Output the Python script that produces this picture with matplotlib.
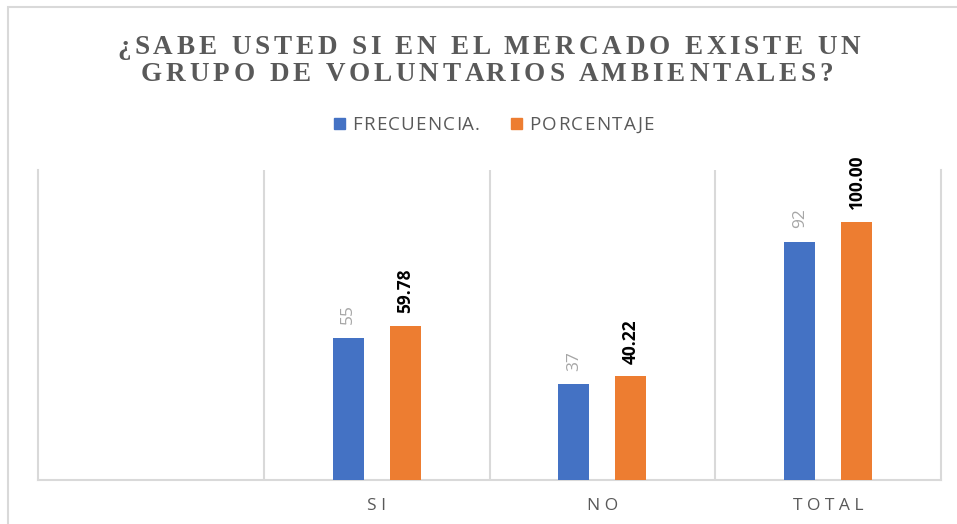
import matplotlib
matplotlib.use("Agg")
import matplotlib.pyplot as plt
from matplotlib.font_manager import FontProperties
from matplotlib.patches import Rectangle
import numpy as np

# ---- data ----
categories = ["", "SI", "NO", "TOTAL"]
frecuencia = [None, 55, 37, 92]
porcentaje = [None, 59.78, 40.22, 100.00]
series_names = ["FRECUENCIA.", "PORCENTAJE"]
title_lines = ["¿SABE USTED SI EN EL MERCADO EXISTE UN", "GRUPO DE VOLUNTARIOS AMBIENTALES?"]

BLUE = "#4472C4"
ORANGE = "#ED7D31"
GRID = "#D9D9D9"
TXT = "#595959"

W, H = 957, 524
fig = plt.figure(figsize=(W / 100, H / 100), dpi=100)
fig.patch.set_facecolor("white")

def fy(py):
    return (H - py) / H

# outer chart border (left & top visible)
fig.add_artist(Rectangle((8 / W, -0.1), 1.2, (H - 7) / H + 0.1, transform=fig.transFigure,
                         fill=False, edgecolor=GRID, lw=1.5))

ax = fig.add_axes([38 / W, (H - 480) / H, (941 - 38) / W, (480 - 170) / H])
x = np.arange(len(categories))
bw = 0.137
off = 0.126
for i in range(len(categories)):
    if frecuencia[i] is not None:
        ax.bar(x[i] - off, frecuencia[i], bw, color=BLUE, zorder=3)
        ax.annotate(f"{frecuencia[i]}", (x[i] - off, frecuencia[i]), xytext=(0, 10),
                    textcoords="offset points", rotation=90, ha="center", va="bottom",
                    fontsize=12.5, color="#A6A6A6", family="Open Sans")
    if porcentaje[i] is not None:
        ax.bar(x[i] + off, porcentaje[i], bw, color=ORANGE, zorder=3)
        ax.annotate(f"{porcentaje[i]:.2f}", (x[i] + off, porcentaje[i]), xytext=(0, 9),
                    textcoords="offset points", rotation=90, ha="center", va="bottom",
                    fontsize=12.5, color="black", fontweight="bold", family="Open Sans")

ax.set_xlim(-0.5, len(categories) - 0.5)
ax.set_ylim(0, 120)
ax.set_yticks([])
ax.set_xticks(x)
ax.set_xticklabels([" ".join(c) for c in categories], family="Open Sans", fontsize=12.5, color=TXT)
ax.tick_params(axis="x", length=0, pad=13)
for b in np.arange(0.5, len(categories) - 0.5, 1):
    ax.axvline(b, color=GRID, lw=1.5, zorder=1)
ax.spines["top"].set_visible(False)
for s in ["left", "right", "bottom"]:
    ax.spines[s].set_color(GRID)
    ax.spines[s].set_linewidth(1.5)

renderer = fig.canvas.get_renderer()
REF = "|"

def width(s, prop):
    w, h, d = renderer.get_text_width_height_descent(s, prop, ismath=False)
    return w

def spaced(s, x0, ybase, target, prop, color, center=True):
    wr = width(REF, prop)
    pos = [width(s[:i] + REF, prop) - wr if i > 0 else 0 for i in range(len(s))]
    base = width(s, prop)
    spacing = (target - base) / (len(s) - 1)
    start = x0 - target / 2 if center else x0
    for i, ch in enumerate(s):
        if ch == " ":
            continue
        fig.text((start + pos[i] + i * spacing) / W, fy(ybase), ch, fontproperties=prop,
                 color=color, ha="left", va="baseline")

# legend
leg_prop = FontProperties(family="Open Sans", size=13.5)
fig.add_artist(Rectangle((334 / W, fy(129)), 11 / W, 11 / H, transform=fig.transFigure, color=BLUE))
spaced(series_names[0], 352, 129.5, 128, leg_prop, TXT, center=False)
fig.add_artist(Rectangle((511 / W, fy(129)), 11 / W, 11 / H, transform=fig.transFigure, color=ORANGE))
spaced(series_names[1], 529, 129.5, 125, leg_prop, TXT, center=False)

# letter-spaced title
title_prop = FontProperties(family="Liberation Serif", weight="bold", size=19.5)
spaced(title_lines[0], 488.5, 54, 743, title_prop, TXT)
spaced(title_lines[1], 487, 81, 692, title_prop, TXT)

fig.savefig("out.png", dpi=100, facecolor="white")
